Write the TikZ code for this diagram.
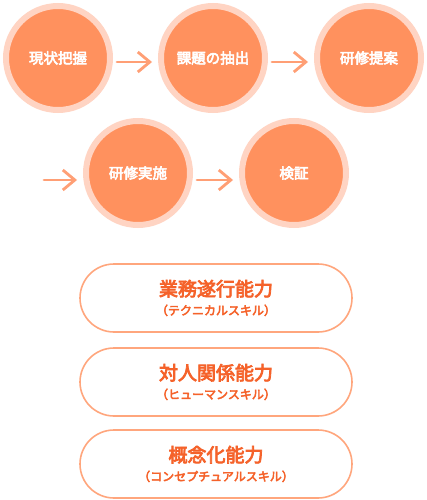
\documentclass[tikz,border=0pt]{standalone}
\usepackage{fontspec}
\setmainfont{Noto Sans CJK JP}[BoldFont={Noto Sans CJK JP}, BoldFeatures={FakeBold=4}]
\usetikzlibrary{arrows.meta,positioning}
\definecolor{stepfill}{HTML}{FF915E}
\definecolor{stepring}{HTML}{FFD4C3}
\definecolor{flowarrow}{HTML}{FF9F75}
\definecolor{skillline}{HTML}{FFA67D}
\definecolor{skilltext}{HTML}{F5622A}

\begin{document}
\begin{tikzpicture}[x=1pt, y=-1pt,
  stepnode/.style={circle, fill=stepfill, draw=stepring, line width=6pt, minimum size=104pt, inner sep=0pt, text=white, font=\fontsize{14.5}{17}\selectfont\bfseries},
  skill/.style={rectangle, rounded corners=34pt, draw=skillline, line width=1.6pt, fill=white, minimum width=272pt, minimum height=68pt, align=center, text=skilltext, font=\bfseries},
  flow/.style={-{Straight Barb[length=12pt,width=20pt]}, line width=2.8pt, flowarrow, line cap=round, shorten <=4pt, shorten >=6pt}
]
  \useasboundingbox (0,0) rectangle (427,500);

  % process steps
  \node[stepnode] (s1) at (58, 58)   {現状把握};
  \node[stepnode] (s2) at (213, 58)  {課題の抽出};
  \node[stepnode] (s3) at (369, 58)  {研修提案};
  \node[stepnode] (s4) at (138, 173) {研修実施};
  \node[stepnode] (s5) at (294, 173) {検証};
  \coordinate (s0) at (44, 180);

  \draw[flow] ([yshift=-4pt]s1.east) -- ([yshift=-4pt]s2.west);
  \draw[flow] ([yshift=-4pt]s2.east) -- ([yshift=-4pt]s3.west);
  \draw[flow, shorten <=0pt] (s0) -- ([yshift=-7pt]s4.west);
  \draw[flow] ([yshift=-7pt]s4.east) -- ([yshift=-7pt]s5.west);

  % skill boxes
  \node[skill] (k1) at (216, 298) {{\fontsize{19}{22}\selectfont 業務遂行能力}\\[7pt]{\fontsize{12}{14}\selectfont （テクニカルスキル）}};
  \node[skill] (k2) at (216, 382) {{\fontsize{19}{22}\selectfont 対人関係能力}\\[7pt]{\fontsize{12}{14}\selectfont （ヒューマンスキル）}};
  \node[skill] (k3) at (216, 464) {{\fontsize{19}{22}\selectfont 概念化能力}\\[7pt]{\fontsize{12}{14}\selectfont （コンセプチュアルスキル）}};
\end{tikzpicture}
\end{document}
